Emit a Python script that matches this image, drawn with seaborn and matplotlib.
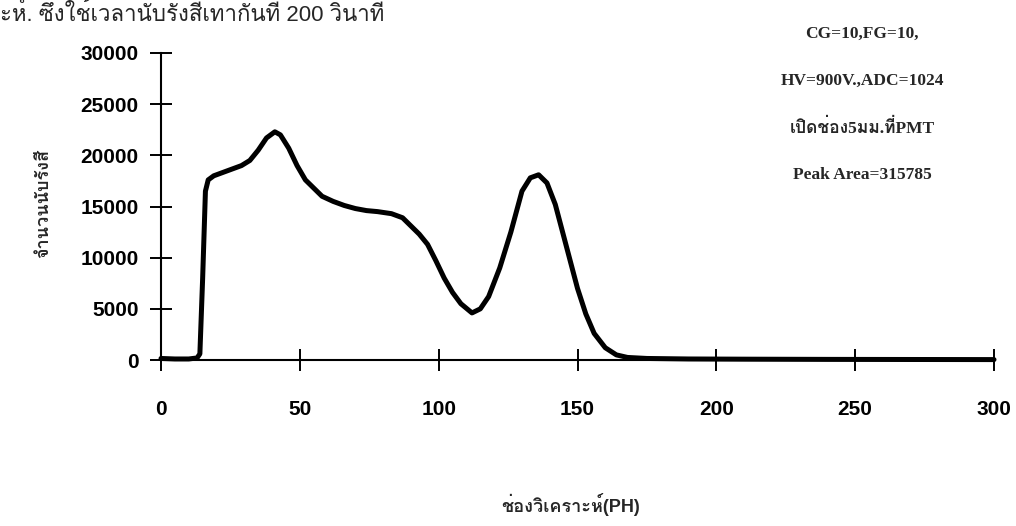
import numpy as np
import pandas as pd
import matplotlib
matplotlib.use("Agg")
import matplotlib.pyplot as plt
import seaborn as sns
from matplotlib import font_manager as fm
from matplotlib.ft2font import FT2Font

# ---- data ----
channel = [0, 5, 10, 13, 14, 15, 16, 17, 19, 22, 25, 29, 32, 35, 38, 41, 43, 46, 49, 52,
           55, 58, 62, 66, 70, 74, 78, 83, 87, 90, 93, 96, 99, 102, 105, 108, 112, 115,
           118, 122, 126, 130, 133, 136, 139, 142, 146, 150, 153, 156, 160, 164, 168,
           175, 190, 210, 240, 270, 300]
counts = [150, 100, 100, 200, 600, 8000, 16500, 17600, 18000, 18300, 18600, 19000, 19500,
          20500, 21700, 22300, 22000, 20700, 19000, 17600, 16800, 16000, 15500, 15100,
          14800, 14600, 14500, 14300, 13900, 13100, 12300, 11300, 9700, 8000, 6600, 5500,
          4600, 5000, 6200, 9000, 12500, 16500, 17800, 18100, 17300, 15200, 11100, 7000,
          4500, 2600, 1200, 500, 250, 150, 100, 80, 60, 50, 40]
xticks = [0, 50, 100, 150, 200, 250, 300]
yticks = [0, 5000, 10000, 15000, 20000, 25000, 30000]
xlabel = "ช่องวิเคราะห์(PH)"
ylabel = "จำนวนนับรังสี"
title_line = "ะห์. ซึ่งใช้เวลานับรังสีเท่ากันที่ 200 วินาที"
notes = ["CG=10,FG=10,", "HV=900V.,ADC=1024", "เปิดช่อง5มม.ที่PMT", "Peak Area=315785"]

df = pd.DataFrame({"channel": channel, "counts": counts})

sns.set_theme(style="white")


def thai_families():
    names = []
    for f in fm.fontManager.ttflist:
        try:
            cm = FT2Font(f.fname).get_charmap()
        except Exception:
            continue
        if 0x0E01 in cm and f.name not in names:
            names.append(f.name)
    return names


thai = thai_families()
sans_list = ["Liberation Sans"] + thai + ["DejaVu Sans"]
serif_list = ["Liberation Serif"] + thai + ["DejaVu Sans"]
plt.rcParams["font.family"] = sans_list

fig = plt.figure(figsize=(10.16, 5.26), dpi=100)
ax = fig.add_axes([161 / 1016, (526 - 360) / 526, (994 - 161) / 1016, (360 - 53) / 526])

sns.lineplot(data=df, x="channel", y="counts", ax=ax, color="black", linewidth=3.6,
             clip_on=False, solid_joinstyle="round", solid_capstyle="round")

ax.set_xlim(0, 300)
ax.set_ylim(0, 30000)
ax.set_xticks(xticks)
ax.set_yticks(yticks)
ax.set_xticklabels([str(v) for v in xticks], fontsize=15, fontweight="bold")
ax.set_yticklabels([str(v) for v in yticks], fontsize=15, fontweight="bold")
ax.tick_params(axis="both", bottom=True, left=True, direction="inout", length=16,
               width=1.4, color="black", labelcolor="black")
ax.tick_params(axis="x", pad=21)
ax.tick_params(axis="y", pad=8)
for s in ["top", "right"]:
    ax.spines[s].set_visible(False)
for s in ["left", "bottom"]:
    ax.spines[s].set_color("black")
    ax.spines[s].set_linewidth(1.5)
ax.grid(False)

ax.set_xlabel(xlabel, fontsize=13, fontweight="bold", family=sans_list)
ax.xaxis.set_label_coords((571 - 161) / 833, (360 - 505) / 307)
ax.xaxis.label.set_va("center")
ax.set_ylabel(ylabel, fontsize=13, fontweight="bold", family=sans_list)
ax.yaxis.set_label_coords((44 - 161) / 833, (360 - 203) / 307)
ax.yaxis.label.set_va("center")

fig.text(0.0, 1 - 21 / 526, title_line, fontsize=16, ha="left", va="baseline",
         family=sans_list)

note_y = [34, 81, 128, 175]
for t, yy in zip(notes, note_y):
    fig.text(862 / 1016, 1 - yy / 526, t, fontsize=12.5, fontweight="bold",
             ha="center", va="center", family=serif_list)

fig.savefig("out.png", dpi=100)
